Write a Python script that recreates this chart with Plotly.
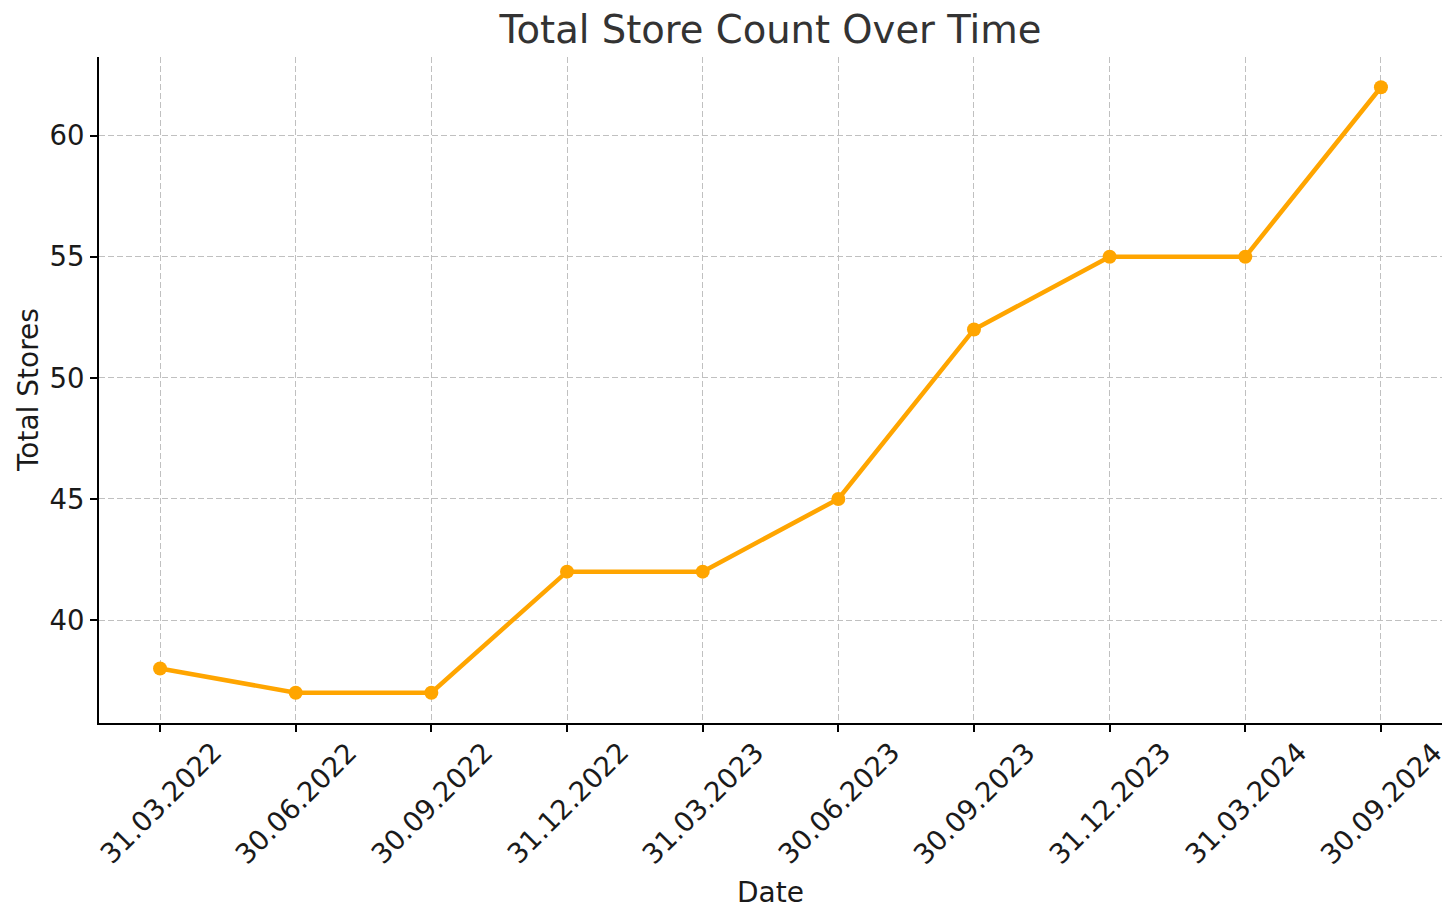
import plotly.graph_objects as go

dates = ["31.03.2022", "30.06.2022", "30.09.2022", "31.12.2022", "31.03.2023",
         "30.06.2023", "30.09.2023", "31.12.2023", "31.03.2024", "30.09.2024"]
stores = [38, 37, 37, 42, 42, 45, 52, 55, 55, 62]
y_ticks = [40, 45, 50, 55, 60]

font = "DejaVu Sans"
idx = list(range(len(dates)))

fig = go.Figure()
fig.add_trace(go.Scatter(
    x=idx, y=stores, mode="lines+markers",
    line=dict(color="#FFA500", width=4.5),
    marker=dict(color="#FFA500", size=14),
    showlegend=False, hoverinfo="skip",
))

annotations = []
for i, d in zip(idx, dates):
    annotations.append(dict(
        x=i, y=0, xref="x", yref="paper", text=d, showarrow=False,
        textangle=-45, xanchor="center", yanchor="middle", yshift=-80,
        font=dict(family=font, size=27.5, color="#1a1a1a"),
    ))
annotations.append(dict(
    x=0.5, y=0, xref="paper", yref="paper", text="Date", showarrow=False,
    xanchor="center", yanchor="middle", yshift=-169,
    font=dict(family=font, size=28, color="#1a1a1a"),
))
annotations.append(dict(
    x=0, y=0.5, xref="paper", yref="paper", text="Total Stores", showarrow=False,
    textangle=-90, xanchor="center", yanchor="middle", xshift=-71,
    font=dict(family=font, size=28, color="#1a1a1a"),
))

W, H = 1448, 914
fig.update_layout(
    width=W, height=H,
    margin=dict(l=91, r=14, t=49, b=199),
    paper_bgcolor="white", plot_bgcolor="white",
    title=dict(text="Total Store Count Over Time", x=0.5, xref="paper",
               xanchor="center", y=1 - 22 / H, yanchor="middle",
               font=dict(family=font, size=38.5, color="#333333")),
    annotations=annotations,
    xaxis=dict(
        range=[-0.45, 9.45], tickvals=idx, showticklabels=False,
        showgrid=True, gridcolor="#c0c0c0", gridwidth=1, griddash="6px,3px",
        showline=True, linecolor="black", linewidth=2,
        ticks="outside", ticklen=7, tickwidth=2, tickcolor="black",
        zeroline=False, fixedrange=True,
    ),
    yaxis=dict(
        range=[35.75, 63.25], tickvals=y_ticks,
        tickfont=dict(family=font, size=27.5, color="#1a1a1a"),
        showgrid=True, gridcolor="#c0c0c0", gridwidth=1, griddash="6px,3px",
        showline=True, linecolor="black", linewidth=2,
        ticks="outside", ticklen=7, tickwidth=2, tickcolor="black",
        zeroline=False, fixedrange=True,
    ),
)

fig.write_html("out.html")
